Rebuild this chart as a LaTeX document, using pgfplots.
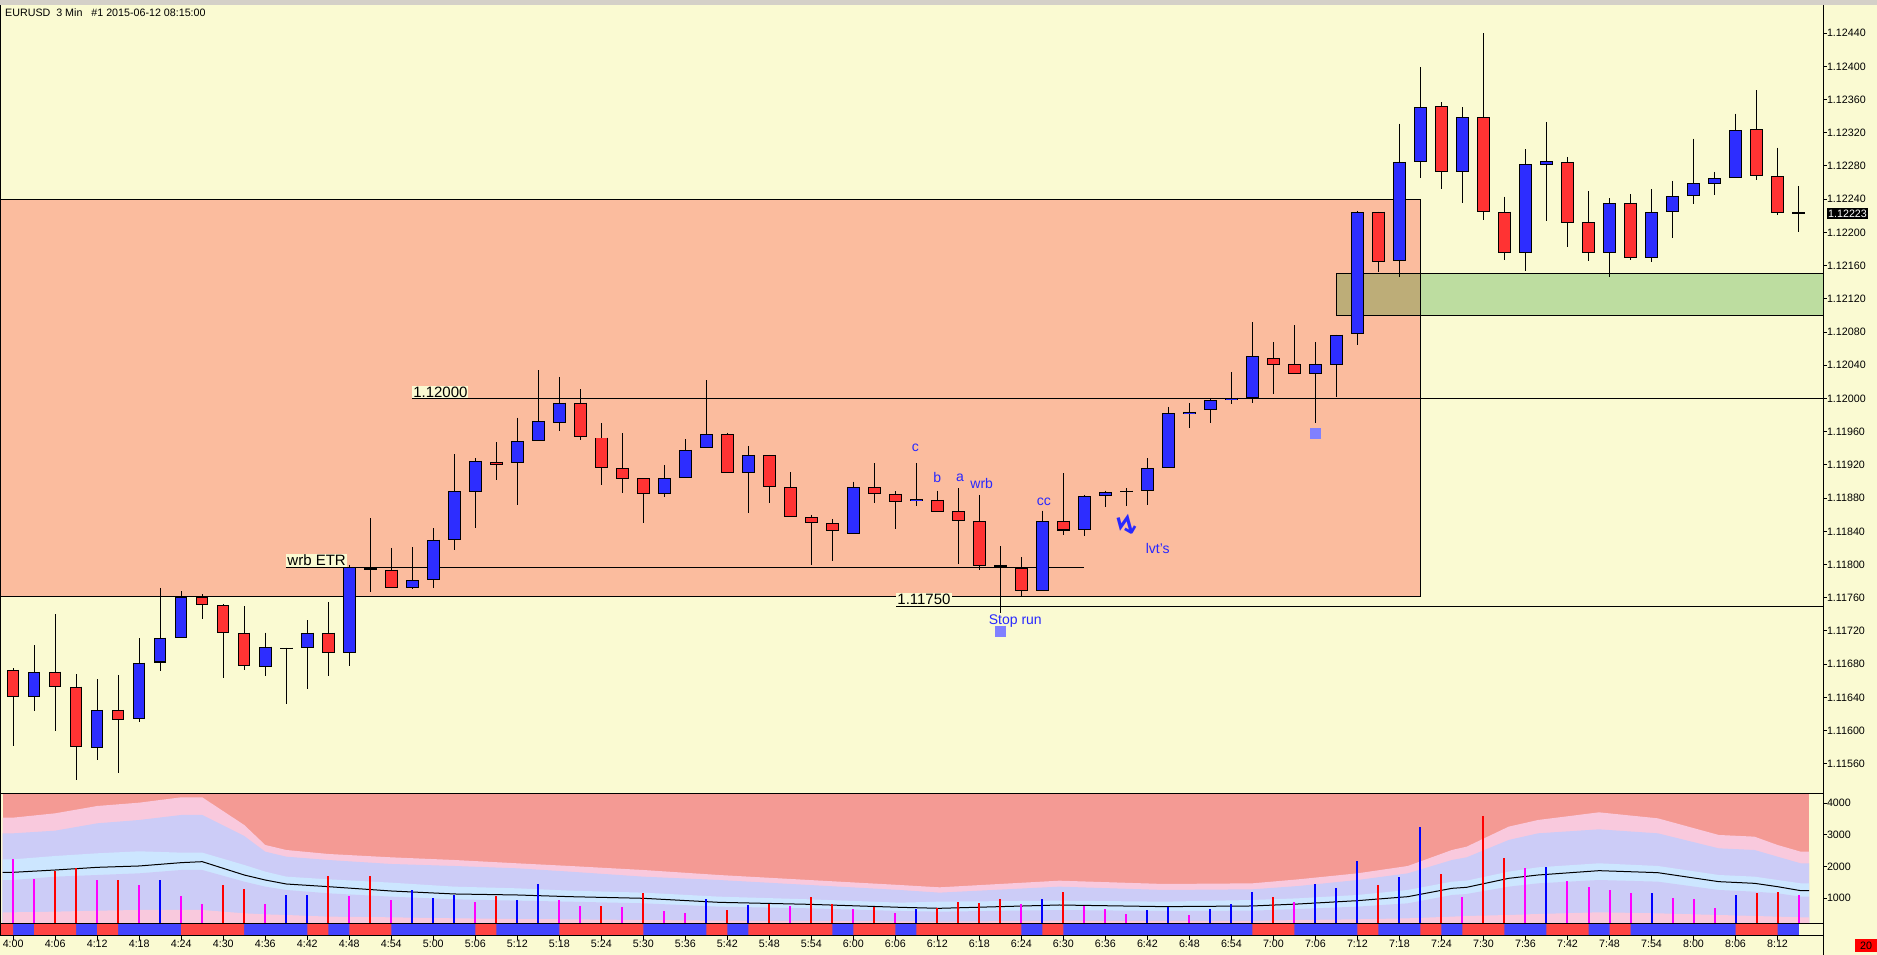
\documentclass[border=0pt]{standalone}
\usepackage{fontspec}
\setmainfont{Liberation Sans}
\newfontfamily\dejavu{DejaVu Sans}
\usepackage{pgfplots}
\usepackage{pgfplotstable}
\pgfplotsset{compat=1.18}
\newcommand\ff[1]{\fontsize{#1}{#1}\selectfont}
\definecolor{bgY}{RGB}{250,250,210}
\definecolor{salm}{RGB}{251,188,158}
\definecolor{grn}{RGB}{189,221,160}
\definecolor{olv}{RGB}{189,173,120}
\definecolor{candR}{RGB}{255,51,51}
\definecolor{candB}{RGB}{45,45,255}
\definecolor{annB}{RGB}{40,40,255}
\definecolor{sqB}{RGB}{128,128,255}
\definecolor{volTop}{RGB}{244,154,148}
\definecolor{bPink}{RGB}{249,201,221}
\definecolor{bLav}{RGB}{204,204,247}
\definecolor{bLB}{RGB}{204,230,255}
\definecolor{stR}{RGB}{255,68,68}
\definecolor{stB}{RGB}{68,68,255}
\definecolor{vM}{RGB}{255,0,255}
\definecolor{vR}{RGB}{255,0,0}
\definecolor{vB}{RGB}{0,0,255}
\definecolor{topGray}{RGB}{212,208,200}

\pgfplotstableread{
x o h l c
1 1.11641 1.11703 1.11624 1.11670
4 1.11579 1.11662 1.11564 1.11625
6 1.11614 1.11711 1.11610 1.11682
7 1.11682 1.11772 1.11672 1.11712
8 1.11712 1.11768 1.11712 1.11761
12 1.11677 1.11718 1.11666 1.11701
13 1.11700 1.11700 1.11632 1.11700
14 1.11700 1.11733 1.11650 1.11718
16 1.11694 1.11800 1.11678 1.11797
19 1.11772 1.11821 1.11771 1.11781
20 1.11781 1.11844 1.11772 1.11830
21 1.11830 1.11933 1.11818 1.11888
22 1.11887 1.11928 1.11844 1.11925
24 1.11922 1.11977 1.11872 1.11949
25 1.11949 1.12034 1.11949 1.11973
26 1.11971 1.12026 1.11961 1.11995
31 1.11885 1.11920 1.11881 1.11904
32 1.11904 1.11951 1.11904 1.11938
33 1.11940 1.12022 1.11940 1.11957
35 1.11910 1.11943 1.11862 1.11932
40 1.11837 1.11900 1.11837 1.11893
43 1.11876 1.11922 1.11871 1.11879
49 1.11768 1.11865 1.11768 1.11852
51 1.11841 1.11884 1.11834 1.11882
52 1.11882 1.11889 1.11869 1.11887
53 1.11887 1.11892 1.11871 1.11889
54 1.11889 1.11928 1.11872 1.11916
55 1.11916 1.11990 1.11916 1.11982
56 1.11981 1.11994 1.11965 1.11984
57 1.11986 1.12000 1.11971 1.11998
58 1.11998 1.12032 1.11993 1.12001
59 1.12001 1.12092 1.11995 1.12051
62 1.12029 1.12068 1.11970 1.12041
63 1.12040 1.12077 1.12002 1.12077
64 1.12078 1.12226 1.12064 1.12224
66 1.12165 1.12331 1.12146 1.12285
67 1.12285 1.12399 1.12265 1.12351
69 1.12273 1.12351 1.12236 1.12339
72 1.12175 1.12300 1.12153 1.12282
73 1.12281 1.12333 1.12214 1.12286
76 1.12175 1.12241 1.12146 1.12235
78 1.12169 1.12252 1.12164 1.12224
79 1.12224 1.12262 1.12193 1.12244
80 1.12244 1.12313 1.12234 1.12259
81 1.12258 1.12273 1.12245 1.12265
82 1.12266 1.12343 1.12266 1.12323
85 1.12223 1.12256 1.12200 1.12223
}\bull

\pgfplotstableread{
x o h l c
0 1.11673 1.11675 1.11581 1.11641
2 1.11671 1.11740 1.11600 1.11653
3 1.11653 1.11668 1.11541 1.11580
5 1.11625 1.11667 1.11549 1.11613
9 1.11761 1.11764 1.11734 1.11751
10 1.11751 1.11752 1.11663 1.11718
11 1.11718 1.11750 1.11673 1.11678
15 1.11718 1.11755 1.11666 1.11694
17 1.11796 1.11856 1.11767 1.11794
18 1.11794 1.11820 1.11772 1.11772
23 1.11924 1.11947 1.11902 1.11920
27 1.11995 1.12011 1.11950 1.11953
28 1.11953 1.11970 1.11896 1.11916
29 1.11916 1.11958 1.11886 1.11903
30 1.11904 1.11904 1.11850 1.11885
34 1.11957 1.11959 1.11910 1.11910
36 1.11932 1.11932 1.11874 1.11893
37 1.11893 1.11911 1.11857 1.11857
38 1.11857 1.11860 1.11799 1.11850
39 1.11850 1.11855 1.11804 1.11840
41 1.11893 1.11922 1.11874 1.11885
42 1.11885 1.11888 1.11843 1.11875
44 1.11878 1.11889 1.11863 1.11863
45 1.11864 1.11892 1.11801 1.11853
46 1.11852 1.11884 1.11794 1.11798
47 1.11799 1.11822 1.11742 1.11797
48 1.11796 1.11809 1.11762 1.11768
50 1.11853 1.11910 1.11836 1.11841
60 1.12049 1.12068 1.12006 1.12040
61 1.12041 1.12088 1.12030 1.12030
65 1.12225 1.12225 1.12152 1.12164
68 1.12352 1.12357 1.12252 1.12273
70 1.12339 1.12440 1.12215 1.12224
71 1.12225 1.12243 1.12167 1.12175
74 1.12285 1.12291 1.12182 1.12211
75 1.12212 1.12250 1.12165 1.12175
77 1.12236 1.12246 1.12167 1.12169
83 1.12324 1.12371 1.12263 1.12268
84 1.12268 1.12302 1.12221 1.12223
}\bear

\pgfplotstableread{
x pt lt bt ma bb lb
-0.5 3547 3052 2231 1821 1578 558
0 3547 3052 2231 1821 1578 558
2 3684 3136 2336 1894 1684 579
4 3915 3368 2421 1978 1736 610
6 4020 3473 2484 2021 1789 631
8 4189 3631 2442 2126 1894 631
9 4189 3631 2442 2157 1894 631
11 3315 2968 2052 1736 1526 526
12 2684 2473 1842 1578 1368 494
13 2526 2315 1684 1452 1263 473
15 2400 2210 1600 1368 1158 421
18 2294 2084 1494 1231 1052 400
21 2210 2021 1368 1137 968 368
24 2105 1947 1315 1105 926 347
26.5 2021 1842 1242 1052 894 337
30 1894 1684 1179 1000 842 315
33.6 1736 1578 1052 873 737 294
37.9 1578 1421 968 810 684 284
42.2 1421 1263 863 716 600 273
44.1 1347 1179 894 684 579 263
49.8 1557 1368 926 789 631 294
54.8 1452 1263 894 737 600 284
59 1473 1284 947 758 610 284
61.2 1600 1389 1000 821 663 315
64 1789 1578 1105 926 737 337
66.4 2021 1789 1263 1052 842 368
68.5 2526 2210 1526 1315 1105 421
69.2 2631 2294 1557 1347 1137 442
71.2 3263 2842 1842 1631 1368 473
72.6 3473 3052 1978 1736 1473 505
75.5 3715 3178 2105 1873 1578 558
78.3 3526 3052 2021 1810 1526 526
81.2 3000 2578 1736 1526 1263 473
82.9 2947 2526 1684 1473 1210 442
84 2684 2315 1578 1368 1158 421
85.1 2473 2105 1473 1242 1052 400
85.5 2473 2105 1473 1242 1052 400
}\bands

\pgfplotstableread{
x v
0 2242
1 1610
4 1578
6 1410
8 1073
9 821
12 821
16 1073
18 947
22 884
26 947
27 758
29 726
31 600
32 537
37 758
40 663
42 537
48 821
51 758
52 663
53 505
56 473
61 884
69 1042
72 1957
74 1547
75 1357
76 1263
77 1168
79 1010
80 979
81 694
85 1105
}\volM

\pgfplotstableread{
x v
2 1873
3 1947
5 1578
10 1410
11 1294
15 1705
17 1705
23 1073
28 758
30 1168
34 631
36 821
38 1042
39 821
41 726
44 694
45 884
46 852
47 979
50 1200
60 1042
65 1421
68 1768
70 3599
71 2273
83 1168
84 1200
}\volR

\pgfplotstableread{
x v
7 1578
13 1105
14 1105
19 1263
20 1010
21 1105
24 947
25 1452
33 979
35 789
43 663
49 979
54 631
55 737
57 663
58 821
59 1200
62 1452
63 1326
64 2179
66 1673
67 3252
73 1989
78 1168
82 1105
}\volB

\pgfplotsset{
  candlebar/.style 2 args={forget plot, draw=none, mark=none,
    error bars/.cd, y dir=minus, y explicit, error mark=none,
    error bar style={draw=#1, line width=#2}},
}

\begin{document}
\begin{tikzpicture}
\fill[bgY] (0pt,0pt) rectangle (1877pt,955pt);
\fill[topGray] (0pt,950pt) rectangle (1877pt,955pt);

% ---------------- price panel ----------------
\begin{axis}[
  at={(0pt,161.7pt)}, anchor=south west,
  width=1823.3pt, height=788.3pt, scale only axis,
  xmin=-0.6286, xmax=86.181, ymin=1.115245, ymax=1.124739,
  axis line style={draw=none},
  xtick=\empty,
  ytick={1.1156,1.116,1.1164,1.1168,1.1172,1.1176,1.118,1.1184,1.1188,1.1192,1.1196,1.12,1.1204,1.1208,1.1212,1.1216,1.122,1.1224,1.1228,1.1232,1.1236,1.124,1.1244},
  yticklabels={1.11560,1.11600,1.11640,1.11680,1.11720,1.11760,1.11800,1.11840,1.11880,1.11920,1.11960,1.12000,1.12040,1.12080,1.12120,1.12160,1.12200,1.12240,1.12280,1.12320,1.12360,1.12400,1.12440},
  ytick pos=right, yticklabel pos=right,
  tick align=outside, major tick length=3.5pt,
  tick style={black, line width=1pt},
  yticklabel style={anchor=west, inner sep=0pt, font=\ff{10.7}},
  clip=true,
]
% zones
\addplot[fill=salm, draw=black, line width=1pt, forget plot] coordinates {(-2,1.11762) (67,1.11762) (67,1.1224) (-2,1.1224)} --cycle;
\addplot[fill=grn, draw=black, line width=1pt, forget plot] coordinates {(63,1.121) (90,1.121) (90,1.1215) (63,1.1215)} --cycle;
\addplot[fill=olv, draw=black, line width=1pt, forget plot] coordinates {(63,1.121) (67,1.121) (67,1.1215) (63,1.1215)} --cycle;
% level lines
\addplot[black, line width=1pt, forget plot] coordinates {(18.99,1.12) (90,1.12)};
\addplot[black, line width=1pt, forget plot] coordinates {(13.0,1.11797) (51.0,1.11797)};
\addplot[black, line width=1pt, forget plot] coordinates {(42.04,1.1175) (90,1.1175)};
% wicks
\addplot[candlebar={black}{1pt}] table[x=x, y=h, y error minus expr={\thisrow{h}-\thisrow{l}}] {\bull};
\addplot[candlebar={black}{1pt}] table[x=x, y=h, y error minus expr={\thisrow{h}-\thisrow{l}}] {\bear};
% bodies
\addplot[candlebar={black}{12.5pt}] table[x=x, y expr={max(\thisrow{c},\thisrow{o}+0.00001)}, y error minus expr={max(\thisrow{c}-\thisrow{o},0.00002)}] {\bull};
\addplot[candlebar={candB}{10.5pt}] table[x=x, y expr={\thisrow{c}-0.000012}, y error minus expr={max(\thisrow{c}-\thisrow{o}-0.000024,0)}] {\bull};
\addplot[candlebar={black}{12.5pt}] table[x=x, y expr={max(\thisrow{o},\thisrow{c}+0.00001)}, y error minus expr={max(\thisrow{o}-\thisrow{c},0.00002)}] {\bear};
\addplot[candlebar={candR}{10.5pt}] table[x=x, y expr={\thisrow{o}-0.000012}, y error minus expr={max(\thisrow{o}-\thisrow{c}-0.000024,0)}] {\bear};
% markers
\addplot[only marks, mark=square*, mark size=5pt, draw=sqB, fill=sqB, forget plot] coordinates {(47,1.11720) (62,1.11958)};
% labels
\node[anchor=south west, fill=bgY, inner sep=1pt, font=\ff{15}] at (axis cs:18.99,1.12) {1.12000};
\node[anchor=south west, fill=bgY, inner sep=1pt, font=\ff{15}] at (axis cs:13.0,1.11797) {wrb ETR};
\node[anchor=south west, fill=bgY, inner sep=1pt, font=\ff{15}] at (axis cs:42.04,1.1175) {1.11750};
\node[text=annB, font=\ff{14}] at (axis cs:42.95,1.119407) {c};
\node[text=annB, font=\ff{14}] at (axis cs:44.0,1.119051) {b};
\node[text=annB, font=\ff{14}] at (axis cs:45.08,1.119046) {a};
\node[text=annB, font=\ff{14}] at (axis cs:46.11,1.118979) {wrb};
\node[text=annB, font=\ff{14}] at (axis cs:49.07,1.118753) {cc};
\node[text=annB, font=\ff{14}] at (axis cs:54.49,1.118196) {lvt's};
\node[text=annB, font=\ff{14}] at (axis cs:47.71,1.117324) {Stop run};
\node[text=annB, font=\dejavu\bfseries\ff{28}, rotate=25] at (axis cs:53.04,1.118476) {↯};
\end{axis}

% ---------------- volume panel ----------------
\begin{axis}[
  at={(0pt,31pt)}, anchor=south west,
  width=1823.3pt, height=130.7pt, scale only axis,
  xmin=-0.6286, xmax=86.181, ymin=189, ymax=4316,
  axis line style={draw=none},
  xtick=\empty,
  ytick={1000,2000,3000,4000},
  yticklabels={1000,2000,3000,4000},
  ytick pos=right, yticklabel pos=right,
  tick align=outside, major tick length=3.5pt,
  tick style={black, line width=1pt},
  yticklabel style={anchor=west, inner sep=0pt, font=\ff{10.7}},
  clip=true,
]
\addplot[fill=volTop, draw=none, forget plot] coordinates {(-0.5,5000) (85.5,5000)} \closedcycle;
\addplot[fill=bPink, draw=none, forget plot] table[x=x, y=pt] {\bands} \closedcycle;
\addplot[fill=bLav, draw=none, forget plot] table[x=x, y=lt] {\bands} \closedcycle;
\addplot[fill=bLB, draw=none, forget plot] table[x=x, y=bt] {\bands} \closedcycle;
\addplot[fill=bLav, draw=none, forget plot] table[x=x, y=bb] {\bands} \closedcycle;
\addplot[fill=bPink, draw=none, forget plot] table[x=x, y=lb] {\bands} \closedcycle;
\addplot[black, line width=1pt, forget plot] table[x=x, y=ma] {\bands};
\addplot[ycomb, draw=vM, line width=2pt, forget plot] table[x=x, y=v] {\volM};
\addplot[ycomb, draw=vR, line width=2pt, forget plot] table[x=x, y=v] {\volR};
\addplot[ycomb, draw=vB, line width=2pt, forget plot] table[x=x, y=v] {\volB};
\end{axis}

% ---------------- strip panel ----------------
\begin{axis}[
  at={(0pt,19.3pt)}, anchor=south west,
  width=1823.3pt, height=11.7pt, scale only axis,
  xmin=-0.6286, xmax=86.181, ymin=0, ymax=1,
  axis line style={draw=none},
  ytick=\empty,
  xtick={0,2,...,84},
  xticklabels={4:00,4:06,4:12,4:18,4:24,4:30,4:36,4:42,4:48,4:54,5:00,5:06,5:12,5:18,5:24,5:30,5:36,5:42,5:48,5:54,6:00,6:06,6:12,6:18,6:24,6:30,6:36,6:42,6:48,6:54,7:00,7:06,7:12,7:18,7:24,7:30,7:36,7:42,7:48,7:54,8:00,8:06,8:12},
  xtick pos=left,
  tick align=outside, major tick length=4pt,
  tick style={black, line width=1pt},
  xticklabel style={anchor=north, inner sep=0pt, font=\ff{10.7}},
  clip=true,
]
\addplot[fill=stB, draw=none, forget plot] coordinates {(-1,1) (85,1)} \closedcycle;
\addplot[const plot, fill=stR, draw=none, forget plot] coordinates {(-1,1) (0,0) (1,1) (3,0) (4,1) (5,0) (8,1) (11,0) (14,1) (15,0) (16,1) (18,0) (22,1) (23,0) (26,1) (30,0) (33,1) (34,0) (35,1) (39,0) (40,1) (42,0) (43,1) (48,0) (49,1) (50,0) (59,1) (61,0) (64,1) (65,0) (67,1) (68,0) (69,1) (71,0) (73,1) (75,0) (76,1) (77,0) (82,1) (84,0) (85,0)} \closedcycle;
\end{axis}

% frame lines
\draw[line width=1pt] (0.5pt,19.3pt) -- (0.5pt,950pt);
\draw[line width=1pt] (1823.3pt,0pt) -- (1823.3pt,950pt);
\draw[line width=1pt] (0pt,161.7pt) -- (1823.3pt,161.7pt);
\draw[line width=1pt] (0pt,31pt) -- (1823.3pt,31pt);
\draw[line width=1pt] (0pt,19.3pt) -- (1823.3pt,19.3pt);

% texts
\node[anchor=west, inner sep=0pt, font=\ff{10.7}] at (5pt,942pt) {EURUSD\ \ 3 Min\ \ \ \#1 2015-06-12 08:15:00};
\node[anchor=west, fill=black, text=white, inner sep=1.5pt, font=\ff{10.7}] at (1826.5pt,741.5pt) {1.12223};
\node[fill=vR, inner sep=1pt, minimum width=22pt, minimum height=13pt, font=\ff{10.7}] at (1866pt,9pt) {20};
\pgfresetboundingbox
\path[use as bounding box] (0pt,0pt) rectangle (1877pt,955pt);
\end{tikzpicture}
\end{document}
